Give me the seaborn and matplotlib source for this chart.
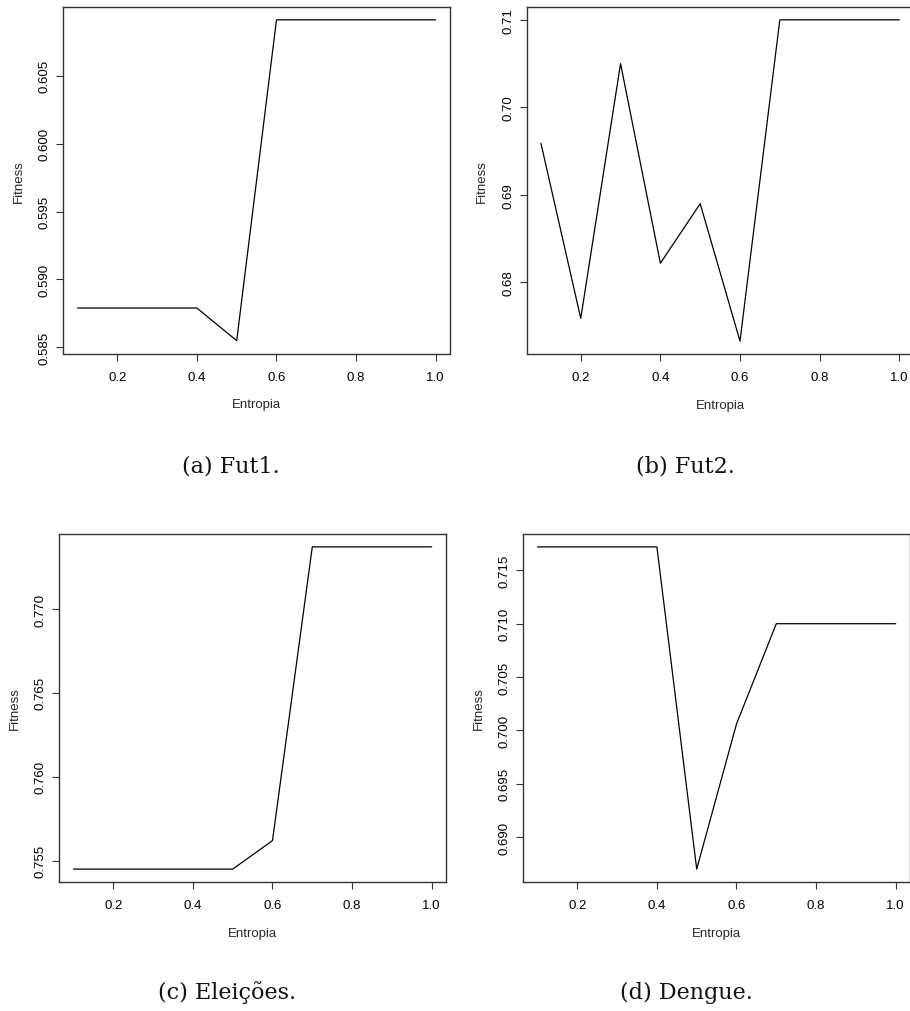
import matplotlib
matplotlib.use("Agg")
import matplotlib.pyplot as plt
import seaborn as sns
import numpy as np
import pandas as pd

# Entropy levels shared by every experiment
entropia = [0.1, 0.2, 0.3, 0.4, 0.5, 0.6, 0.7, 0.8, 0.9, 1.0]

# Best fitness per entropy level, one list per data set
fit_fut1 = [0.5879, 0.5879, 0.5879, 0.5879, 0.5855, 0.6091, 0.6091, 0.6091, 0.6091, 0.6091]
fit_fut2 = [0.6959, 0.6759, 0.7050, 0.6822, 0.6890, 0.6733, 0.7100, 0.7100, 0.7100, 0.7100]
fit_eleicoes = [0.7545, 0.7545, 0.7545, 0.7545, 0.7545, 0.7562, 0.7737, 0.7737, 0.7737, 0.7737]
fit_dengue = [0.7172, 0.7172, 0.7172, 0.7172, 0.6870, 0.7006, 0.7100, 0.7100, 0.7100, 0.7100]

captions = ["(a) Fut1.", "(b) Fut2.", "(c) Eleições.", "(d) Dengue."]
yticks = [
    [0.585, 0.590, 0.595, 0.600, 0.605],
    [0.68, 0.69, 0.70, 0.71],
    [0.755, 0.760, 0.765, 0.770],
    [0.690, 0.695, 0.700, 0.705, 0.710, 0.715],
]
ytick_fmt = ["{:.3f}", "{:.2f}", "{:.3f}", "{:.3f}"]
xticks = [0.2, 0.4, 0.6, 0.8, 1.0]

sns.set_theme(style="ticks")
plt.rcParams["font.family"] = ["Liberation Sans Narrow", "Liberation Sans", "DejaVu Sans"]

W, H = 910, 1012
fig = plt.figure(figsize=(W / 100, H / 100), dpi=100)

# pixel boxes (left, top, right, bottom)
boxes = [
    (63.2, 8, 450.0, 354.5),
    (526.6, 8, 913.6, 355.0),
    (59.2, 535, 446.0, 883.0),
    (523.2, 535, 910.0, 883.0),
]
cap_xy = [(231, 467), (685, 467), (227, 993), (686, 993)]

series = [fit_fut1, fit_fut2, fit_eleicoes, fit_dengue]


def r_range(v):
    lo, hi = min(v), max(v)
    pad = 0.04 * (hi - lo)
    return lo - pad, hi + pad


for i, (vals, box) in enumerate(zip(series, boxes)):
    l, t, r, b = box
    ax = fig.add_axes([l / W, 1 - b / H, (r - l) / W, (b - t) / H])
    df = pd.DataFrame({"Entropia": entropia, "Fitness": vals})
    sns.lineplot(data=df, x="Entropia", y="Fitness", ax=ax, color="black", linewidth=0.9)
    ax.set_xlim(*r_range(entropia))
    ax.set_ylim(*r_range(vals))
    ax.set_xticks(xticks)
    ax.set_xticklabels([f"{x:.1f}" for x in xticks])
    ax.set_yticks(yticks[i])
    ax.set_yticklabels([ytick_fmt[i].format(y) for y in yticks[i]],
                       rotation=90, va="center")
    ax.tick_params(axis="both", direction="out", length=5, width=0.8,
                   color="#333333", labelsize=9.5, labelcolor="black")
    ax.tick_params(axis="x", pad=7.5)
    ax.tick_params(axis="y", pad=4)
    for s in ax.spines.values():
        s.set_visible(True)
        s.set_color("#333333")
        s.set_linewidth(1.0)
    ax.set_xlabel("Entropia", fontsize=9.5, labelpad=11)
    ax.set_ylabel("Fitness", fontsize=9.5, labelpad=10)
    ax.grid(False)
    cx, cy = cap_xy[i]
    fig.text(cx / W, 1 - cy / H, captions[i], ha="center", va="center",
             fontsize=16, family=["DejaVu Serif"], color="#111111")

fig.savefig("out.png", dpi=100)
